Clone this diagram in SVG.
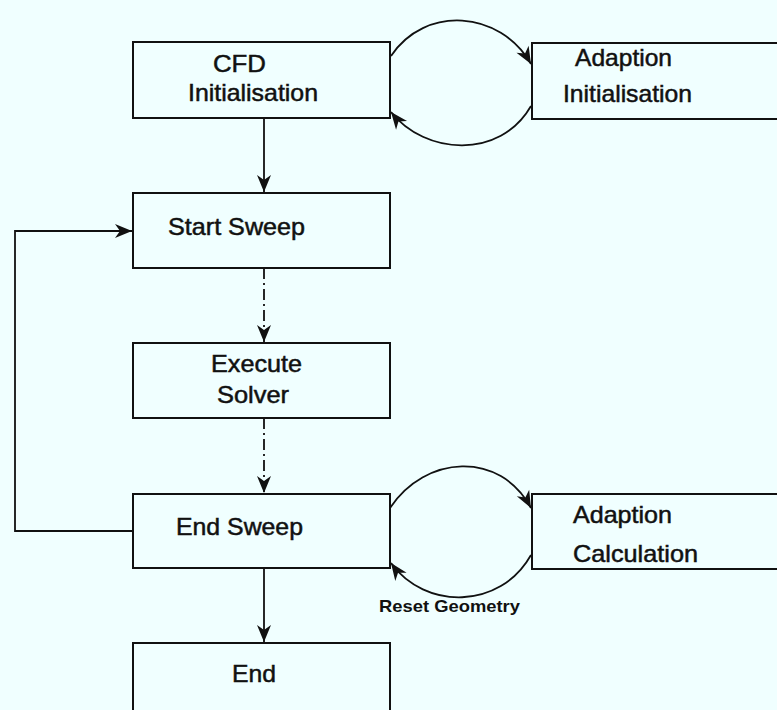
<svg xmlns="http://www.w3.org/2000/svg" width="777" height="710" viewBox="0 0 777 710">
<style>
.box{fill:none;stroke:#111;stroke-width:2}
.t{font-family:"Liberation Sans",Arial,sans-serif;font-size:24px;fill:#111;stroke:#111;stroke-width:0.5}
.c{fill:none;stroke:#111;stroke-width:1.8}
.dd{stroke-dasharray:11 4 2 4}
.lbl{font-family:"Liberation Sans",Arial,sans-serif;font-size:17px;font-weight:bold;fill:#111}
</style>
<defs>
<marker id="ah" markerUnits="userSpaceOnUse" markerWidth="22" markerHeight="18" viewBox="-18 -9 20 18" refX="0" refY="0" orient="auto">
<path d="M0,0 L-17,-7 L-12,0 L-17,7 Z" fill="#111"/>
</marker>
</defs>
<rect width="777" height="710" fill="#f0ffff"/>
<g id="connectors">
<line class="c" x1="264" y1="118" x2="264" y2="192" marker-end="url(#ah)"/>
<line class="c dd" x1="264" y1="268" x2="264" y2="342" marker-end="url(#ah)"/>
<line class="c dd" x1="264" y1="418" x2="264" y2="493" marker-end="url(#ah)"/>
<line class="c" x1="264" y1="568" x2="264" y2="642" marker-end="url(#ah)"/>
<polyline class="c" points="133,531 15,531 15,231 132,231" marker-end="url(#ah)"/>
<path class="c" d="M391,56 C425,5 500,10 531,64" marker-end="url(#ah)"/>
<path class="c" d="M531,106 C500,160 425,155 391,112" marker-end="url(#ah)"/>
<path class="c" d="M390,508 C425,455 500,450 531,508" marker-end="url(#ah)"/>
<path class="c" d="M531,555 C500,610 425,610 391,563" marker-end="url(#ah)"/>
<text class="lbl" x="379" y="612" textLength="141" lengthAdjust="spacingAndGlyphs">Reset Geometry</text>
</g>
<g id="cfd-init">
<rect class="box" x="133" y="42" width="257" height="76"/>
<text class="t" x="213" y="72" textLength="53" lengthAdjust="spacingAndGlyphs">CFD</text>
<text class="t" x="188" y="101" textLength="130" lengthAdjust="spacingAndGlyphs">Initialisation</text>
</g>
<g id="adaption-init">
<rect class="box" x="532" y="43" width="260" height="76"/>
<text class="t" x="575" y="66" textLength="97" lengthAdjust="spacingAndGlyphs">Adaption</text>
<text class="t" x="563" y="102" textLength="129" lengthAdjust="spacingAndGlyphs">Initialisation</text>
</g>
<g id="start-sweep">
<rect class="box" x="133" y="193" width="257" height="75"/>
<text class="t" x="168" y="235" textLength="137" lengthAdjust="spacingAndGlyphs">Start Sweep</text>
</g>
<g id="execute-solver">
<rect class="box" x="133" y="343" width="257" height="75"/>
<text class="t" x="211" y="372" textLength="91" lengthAdjust="spacingAndGlyphs">Execute</text>
<text class="t" x="217" y="403" textLength="72" lengthAdjust="spacingAndGlyphs">Solver</text>
</g>
<g id="end-sweep">
<rect class="box" x="133" y="494" width="257" height="74"/>
<text class="t" x="176" y="535" textLength="127" lengthAdjust="spacingAndGlyphs">End Sweep</text>
</g>
<g id="adaption-calc">
<rect class="box" x="532" y="494" width="260" height="75"/>
<text class="t" x="573" y="523" textLength="99" lengthAdjust="spacingAndGlyphs">Adaption</text>
<text class="t" x="573" y="562" textLength="125" lengthAdjust="spacingAndGlyphs">Calculation</text>
</g>
<g id="end">
<rect class="box" x="133" y="643" width="257" height="100"/>
<text class="t" x="232" y="682" textLength="44" lengthAdjust="spacingAndGlyphs">End</text>
</g>
</svg>
